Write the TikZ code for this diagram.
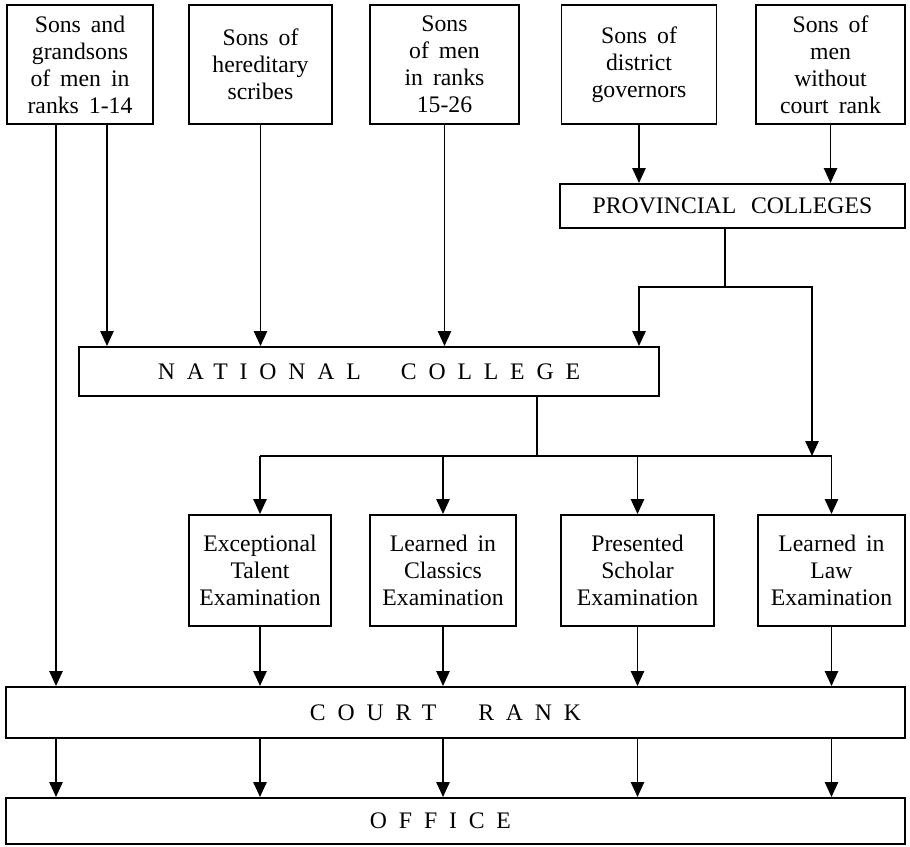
\documentclass[tikz,border=0pt]{standalone}
\usepackage{fontspec}
\setmainfont{Liberation Serif}
\usetikzlibrary{arrows.meta}
\newcommand{\boxfont}{\fontsize{13.5}{15.4}\selectfont\spaceskip=.42em\relax}
\newcommand{\spaced}[1]{{\addfontfeature{LetterSpace=50}#1}}

\begin{document}
\begin{tikzpicture}[x=0.02cm, y=-0.02cm,
  box/.style={draw, line width=1.1pt, align=center, inner sep=0pt, font=\boxfont},
  arr/.style={line width=1.1pt, -{Triangle[width=7.5pt,length=8.5pt]}},
  lnk/.style={line width=1.1pt}]
\useasboundingbox (0,0) rectangle (910,846);

% --- Origins (top row) ---
\node[box, minimum width=2.92cm, minimum height=2.38cm] (grand) at (80,64.5) {Sons and\\grandsons\\of men in\\ranks 1-14};
\node[box, minimum width=2.86cm, minimum height=2.38cm] (scribe) at (260.5,64.5) {Sons of\\hereditary\\scribes};
\node[box, minimum width=2.98cm, minimum height=2.38cm] (lower) at (444.5,64.5) {Sons\\of men\\in ranks\\15-26};
\node[box, minimum width=3.10cm, minimum height=2.38cm] (gov) at (639,64.5) {Sons of\\district\\governors};
\node[box, minimum width=2.98cm, minimum height=2.38cm] (norank) at (830.5,64.5) {Sons of\\men\\without\\court rank};

% --- Colleges ---
\node[box, minimum width=6.9cm, minimum height=0.88cm] (prov) at (732.5,206) {PROVINCIAL\hspace{.2em} COLLEGES};
\node[box, minimum width=11.6cm, minimum height=0.98cm] (natl) at (369,371.5) {\spaced{NATIONAL}\hspace{0.8cm}\spaced{COLLEGE}};

% --- Examinations ---
\node[box, minimum width=2.84cm, minimum height=2.22cm] (talent) at (260,570.5) {Exceptional\\Talent\\Examination};
\node[box, minimum width=2.92cm, minimum height=2.22cm] (classics) at (443,570.5) {Learned in\\Classics\\Examination};
\node[box, minimum width=3.06cm, minimum height=2.22cm] (scholar) at (637.5,570.5) {Presented\\Scholar\\Examination};
\node[box, minimum width=2.94cm, minimum height=2.22cm] (law) at (831.5,570.5) {Learned in\\Law\\Examination};

% --- Rank and office ---
\node[box, minimum width=17.98cm, minimum height=1.02cm] (court) at (455.5,712.5) {\hspace*{-0.4cm}\spaced{COURT}\hspace{0.84cm}\spaced{RANK}};
\node[box, minimum width=17.98cm, minimum height=0.92cm] (office) at (455.5,821) {\hspace*{-0.6cm}\spaced{OFFICE}};

% junction points
\coordinate (gl) at ([xshift=-0.48cm]grand.south);
\coordinate (gr) at ([xshift=0.54cm]grand.south);
\coordinate (pj) at (725,287);
\coordinate (pr) at (812,456);
\coordinate (ej) at (537,456);

% Into the colleges
\draw[arr] (gov.south) -- (gov.south |- prov.north);
\draw[arr] (norank.south) -- (norank.south |- prov.north);
\draw[arr] (gr) -- (gr |- natl.north);
\draw[arr] (scribe.south) -- (scribe.south |- natl.north);
\draw[arr] (lower.south) -- (lower.south |- natl.north);
\draw[lnk] ([xshift=-0.15cm]prov.south) -- (pj);
\draw[arr] (pj) -| (gov.south |- natl.north);
\draw[arr] (pj) -| (pr);

% Colleges to examinations
\draw[lnk] (natl.south -| ej) -- (ej);
\draw[lnk] (talent.north |- ej) -- (law.north |- ej);
\foreach \e in {talent,classics,scholar,law}
  \draw[arr] (\e.north |- ej) -- (\e.north);

% Examinations to court rank
\draw[arr] (gl) -- (gl |- court.north);
\foreach \e in {talent,classics,scholar,law}
  \draw[arr] (\e.south) -- (\e.south |- court.north);

% Court rank to office
\foreach \e in {gl,talent,classics,scholar,law}
  \draw[arr] (court.south -| \e) -- (office.north -| \e);
\end{tikzpicture}
\end{document}
